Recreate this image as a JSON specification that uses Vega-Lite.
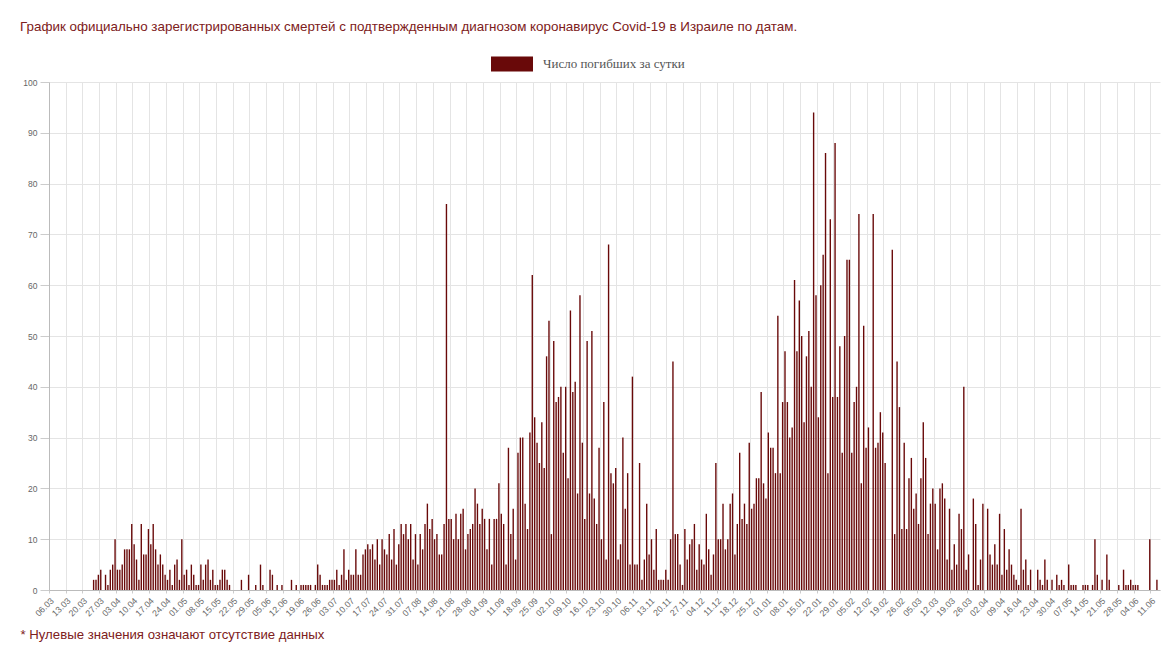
{
  "$schema": "https://vega.github.io/schema/vega-lite/v6.json",
  "width": 1111,
  "height": 508,
  "autosize": {"type": "none"},
  "padding": {"left": 49, "top": 82, "right": 15, "bottom": 62},
  "background": "#ffffff",
  "title": {
    "text": "График официально зарегистрированных смертей с подтвержденным диагнозом коронавирус Covid-19 в Израиле по датам.",
    "anchor": "start",
    "frame": "group",
    "dx": -29,
    "offset": 10,
    "font": "Liberation Sans",
    "fontSize": 13.4,
    "fontWeight": "normal",
    "color": "#7d2020"
  },
  "data": {
    "values": [
      {"d":"2020-03-24","v":2},{"d":"2020-03-25","v":2},{"d":"2020-03-26","v":3},{"d":"2020-03-27","v":4},{"d":"2020-03-29","v":3},{"d":"2020-03-30","v":1},{"d":"2020-03-31","v":4},
      {"d":"2020-04-01","v":5},{"d":"2020-04-02","v":10},{"d":"2020-04-03","v":4},{"d":"2020-04-04","v":4},{"d":"2020-04-05","v":5},{"d":"2020-04-06","v":8},{"d":"2020-04-07","v":8},{"d":"2020-04-08","v":8},{"d":"2020-04-09","v":13},{"d":"2020-04-10","v":9},{"d":"2020-04-11","v":6},{"d":"2020-04-12","v":2},{"d":"2020-04-13","v":13},{"d":"2020-04-14","v":7},{"d":"2020-04-15","v":7},{"d":"2020-04-16","v":12},{"d":"2020-04-17","v":9},{"d":"2020-04-18","v":13},{"d":"2020-04-19","v":8},{"d":"2020-04-20","v":5},{"d":"2020-04-21","v":7},{"d":"2020-04-22","v":5},{"d":"2020-04-23","v":3},{"d":"2020-04-24","v":2},{"d":"2020-04-25","v":4},{"d":"2020-04-26","v":1},{"d":"2020-04-27","v":5},{"d":"2020-04-28","v":6},{"d":"2020-04-29","v":2},{"d":"2020-04-30","v":10},
      {"d":"2020-05-01","v":3},{"d":"2020-05-02","v":4},{"d":"2020-05-03","v":1},{"d":"2020-05-04","v":5},{"d":"2020-05-05","v":3},{"d":"2020-05-06","v":1},{"d":"2020-05-07","v":1},{"d":"2020-05-08","v":5},{"d":"2020-05-09","v":2},{"d":"2020-05-10","v":5},{"d":"2020-05-11","v":6},{"d":"2020-05-12","v":2},{"d":"2020-05-13","v":4},{"d":"2020-05-14","v":1},{"d":"2020-05-15","v":1},{"d":"2020-05-16","v":2},{"d":"2020-05-17","v":4},{"d":"2020-05-18","v":4},{"d":"2020-05-19","v":2},{"d":"2020-05-20","v":1},{"d":"2020-05-25","v":2},{"d":"2020-05-28","v":3},{"d":"2020-05-31","v":1},
      {"d":"2020-06-02","v":5},{"d":"2020-06-03","v":1},{"d":"2020-06-06","v":4},{"d":"2020-06-07","v":3},{"d":"2020-06-09","v":1},{"d":"2020-06-11","v":1},{"d":"2020-06-15","v":2},{"d":"2020-06-17","v":1},{"d":"2020-06-19","v":1},{"d":"2020-06-20","v":1},{"d":"2020-06-21","v":1},{"d":"2020-06-22","v":1},{"d":"2020-06-23","v":1},{"d":"2020-06-25","v":1},{"d":"2020-06-26","v":5},{"d":"2020-06-27","v":3},{"d":"2020-06-28","v":1},{"d":"2020-06-29","v":1},{"d":"2020-06-30","v":1},
      {"d":"2020-07-01","v":2},{"d":"2020-07-02","v":2},{"d":"2020-07-03","v":2},{"d":"2020-07-04","v":4},{"d":"2020-07-05","v":1},{"d":"2020-07-06","v":3},{"d":"2020-07-07","v":8},{"d":"2020-07-08","v":2},{"d":"2020-07-09","v":4},{"d":"2020-07-10","v":3},{"d":"2020-07-11","v":3},{"d":"2020-07-12","v":8},{"d":"2020-07-13","v":3},{"d":"2020-07-14","v":3},{"d":"2020-07-15","v":7},{"d":"2020-07-16","v":8},{"d":"2020-07-17","v":9},{"d":"2020-07-18","v":8},{"d":"2020-07-19","v":9},{"d":"2020-07-20","v":6},{"d":"2020-07-21","v":10},{"d":"2020-07-22","v":5},{"d":"2020-07-23","v":10},{"d":"2020-07-24","v":8},{"d":"2020-07-25","v":7},{"d":"2020-07-26","v":11},{"d":"2020-07-27","v":6},{"d":"2020-07-28","v":12},{"d":"2020-07-29","v":5},{"d":"2020-07-30","v":9},{"d":"2020-07-31","v":13},
      {"d":"2020-08-01","v":11},{"d":"2020-08-02","v":13},{"d":"2020-08-03","v":10},{"d":"2020-08-04","v":13},{"d":"2020-08-05","v":6},{"d":"2020-08-06","v":11},{"d":"2020-08-07","v":5},{"d":"2020-08-08","v":11},{"d":"2020-08-09","v":8},{"d":"2020-08-10","v":13},{"d":"2020-08-11","v":17},{"d":"2020-08-12","v":12},{"d":"2020-08-13","v":14},{"d":"2020-08-14","v":10},{"d":"2020-08-15","v":11},{"d":"2020-08-16","v":7},{"d":"2020-08-17","v":7},{"d":"2020-08-18","v":13},{"d":"2020-08-19","v":76},{"d":"2020-08-20","v":14},{"d":"2020-08-21","v":14},{"d":"2020-08-22","v":10},{"d":"2020-08-23","v":15},{"d":"2020-08-24","v":10},{"d":"2020-08-25","v":15},{"d":"2020-08-26","v":16},{"d":"2020-08-27","v":8},{"d":"2020-08-28","v":11},{"d":"2020-08-29","v":12},{"d":"2020-08-30","v":13},{"d":"2020-08-31","v":20},
      {"d":"2020-09-01","v":17},{"d":"2020-09-02","v":13},{"d":"2020-09-03","v":16},{"d":"2020-09-04","v":14},{"d":"2020-09-05","v":8},{"d":"2020-09-06","v":14},{"d":"2020-09-07","v":5},{"d":"2020-09-08","v":14},{"d":"2020-09-09","v":14},{"d":"2020-09-10","v":21},{"d":"2020-09-11","v":15},{"d":"2020-09-12","v":13},{"d":"2020-09-13","v":5},{"d":"2020-09-14","v":28},{"d":"2020-09-15","v":11},{"d":"2020-09-16","v":16},{"d":"2020-09-17","v":6},{"d":"2020-09-18","v":27},{"d":"2020-09-19","v":30},{"d":"2020-09-20","v":30},{"d":"2020-09-21","v":17},{"d":"2020-09-22","v":12},{"d":"2020-09-23","v":31},{"d":"2020-09-24","v":62},{"d":"2020-09-25","v":34},{"d":"2020-09-26","v":29},{"d":"2020-09-27","v":25},{"d":"2020-09-28","v":33},{"d":"2020-09-29","v":24},{"d":"2020-09-30","v":46},
      {"d":"2020-10-01","v":53},{"d":"2020-10-02","v":11},{"d":"2020-10-03","v":49},{"d":"2020-10-04","v":37},{"d":"2020-10-05","v":38},{"d":"2020-10-06","v":40},{"d":"2020-10-07","v":27},{"d":"2020-10-08","v":40},{"d":"2020-10-09","v":22},{"d":"2020-10-10","v":55},{"d":"2020-10-11","v":39},{"d":"2020-10-12","v":41},{"d":"2020-10-13","v":19},{"d":"2020-10-14","v":58},{"d":"2020-10-15","v":29},{"d":"2020-10-16","v":14},{"d":"2020-10-17","v":49},{"d":"2020-10-18","v":19},{"d":"2020-10-19","v":51},{"d":"2020-10-20","v":18},{"d":"2020-10-21","v":13},{"d":"2020-10-22","v":28},{"d":"2020-10-23","v":10},{"d":"2020-10-24","v":37},{"d":"2020-10-25","v":6},{"d":"2020-10-26","v":68},{"d":"2020-10-27","v":23},{"d":"2020-10-28","v":21},{"d":"2020-10-29","v":24},{"d":"2020-10-30","v":6},{"d":"2020-10-31","v":9},
      {"d":"2020-11-01","v":30},{"d":"2020-11-02","v":16},{"d":"2020-11-03","v":23},{"d":"2020-11-04","v":5},{"d":"2020-11-05","v":42},{"d":"2020-11-06","v":5},{"d":"2020-11-07","v":5},{"d":"2020-11-08","v":25},{"d":"2020-11-09","v":2},{"d":"2020-11-10","v":6},{"d":"2020-11-11","v":17},{"d":"2020-11-12","v":7},{"d":"2020-11-13","v":10},{"d":"2020-11-14","v":4},{"d":"2020-11-15","v":12},{"d":"2020-11-16","v":2},{"d":"2020-11-17","v":2},{"d":"2020-11-18","v":2},{"d":"2020-11-19","v":4},{"d":"2020-11-20","v":2},{"d":"2020-11-21","v":10},{"d":"2020-11-22","v":45},{"d":"2020-11-23","v":11},{"d":"2020-11-24","v":11},{"d":"2020-11-25","v":5},{"d":"2020-11-26","v":1},{"d":"2020-11-27","v":12},{"d":"2020-11-28","v":6},{"d":"2020-11-29","v":9},{"d":"2020-11-30","v":10},
      {"d":"2020-12-01","v":13},{"d":"2020-12-02","v":4},{"d":"2020-12-03","v":9},{"d":"2020-12-04","v":6},{"d":"2020-12-05","v":5},{"d":"2020-12-06","v":15},{"d":"2020-12-07","v":8},{"d":"2020-12-08","v":3},{"d":"2020-12-09","v":7},{"d":"2020-12-10","v":25},{"d":"2020-12-11","v":10},{"d":"2020-12-12","v":10},{"d":"2020-12-13","v":17},{"d":"2020-12-14","v":8},{"d":"2020-12-15","v":10},{"d":"2020-12-16","v":17},{"d":"2020-12-17","v":19},{"d":"2020-12-18","v":7},{"d":"2020-12-19","v":13},{"d":"2020-12-20","v":27},{"d":"2020-12-21","v":14},{"d":"2020-12-22","v":17},{"d":"2020-12-23","v":13},{"d":"2020-12-24","v":29},{"d":"2020-12-25","v":16},{"d":"2020-12-26","v":17},{"d":"2020-12-27","v":22},{"d":"2020-12-28","v":22},{"d":"2020-12-29","v":39},{"d":"2020-12-30","v":21},{"d":"2020-12-31","v":18},
      {"d":"2021-01-01","v":31},{"d":"2021-01-02","v":28},{"d":"2021-01-03","v":28},{"d":"2021-01-04","v":23},{"d":"2021-01-05","v":54},{"d":"2021-01-06","v":23},{"d":"2021-01-07","v":37},{"d":"2021-01-08","v":47},{"d":"2021-01-09","v":37},{"d":"2021-01-10","v":30},{"d":"2021-01-11","v":32},{"d":"2021-01-12","v":61},{"d":"2021-01-13","v":47},{"d":"2021-01-14","v":57},{"d":"2021-01-15","v":50},{"d":"2021-01-16","v":33},{"d":"2021-01-17","v":46},{"d":"2021-01-18","v":51},{"d":"2021-01-19","v":40},{"d":"2021-01-20","v":94},{"d":"2021-01-21","v":58},{"d":"2021-01-22","v":34},{"d":"2021-01-23","v":60},{"d":"2021-01-24","v":66},{"d":"2021-01-25","v":86},{"d":"2021-01-26","v":23},{"d":"2021-01-27","v":73},{"d":"2021-01-28","v":38},{"d":"2021-01-29","v":88},{"d":"2021-01-30","v":38},{"d":"2021-01-31","v":48},
      {"d":"2021-02-01","v":27},{"d":"2021-02-02","v":50},{"d":"2021-02-03","v":65},{"d":"2021-02-04","v":65},{"d":"2021-02-05","v":27},{"d":"2021-02-06","v":37},{"d":"2021-02-07","v":40},{"d":"2021-02-08","v":74},{"d":"2021-02-09","v":21},{"d":"2021-02-10","v":52},{"d":"2021-02-11","v":28},{"d":"2021-02-12","v":32},{"d":"2021-02-14","v":74},{"d":"2021-02-15","v":28},{"d":"2021-02-16","v":29},{"d":"2021-02-17","v":35},{"d":"2021-02-18","v":31},{"d":"2021-02-19","v":25},{"d":"2021-02-22","v":67},{"d":"2021-02-23","v":11},{"d":"2021-02-24","v":45},{"d":"2021-02-25","v":36},{"d":"2021-02-26","v":12},{"d":"2021-02-27","v":29},{"d":"2021-02-28","v":12},
      {"d":"2021-03-01","v":22},{"d":"2021-03-02","v":26},{"d":"2021-03-03","v":16},{"d":"2021-03-04","v":19},{"d":"2021-03-05","v":13},{"d":"2021-03-06","v":22},{"d":"2021-03-07","v":33},{"d":"2021-03-08","v":26},{"d":"2021-03-09","v":11},{"d":"2021-03-10","v":17},{"d":"2021-03-11","v":20},{"d":"2021-03-12","v":17},{"d":"2021-03-13","v":8},{"d":"2021-03-14","v":20},{"d":"2021-03-15","v":21},{"d":"2021-03-16","v":18},{"d":"2021-03-17","v":6},{"d":"2021-03-18","v":16},{"d":"2021-03-19","v":4},{"d":"2021-03-20","v":9},{"d":"2021-03-21","v":5},{"d":"2021-03-22","v":15},{"d":"2021-03-23","v":12},{"d":"2021-03-24","v":40},{"d":"2021-03-25","v":4},{"d":"2021-03-26","v":7},{"d":"2021-03-28","v":18},{"d":"2021-03-29","v":13},{"d":"2021-03-30","v":1},{"d":"2021-03-31","v":6},
      {"d":"2021-04-01","v":17},{"d":"2021-04-03","v":16},{"d":"2021-04-04","v":7},{"d":"2021-04-05","v":5},{"d":"2021-04-06","v":9},{"d":"2021-04-07","v":5},{"d":"2021-04-08","v":15},{"d":"2021-04-09","v":3},{"d":"2021-04-10","v":12},{"d":"2021-04-11","v":4},{"d":"2021-04-12","v":8},{"d":"2021-04-13","v":5},{"d":"2021-04-14","v":3},{"d":"2021-04-15","v":2},{"d":"2021-04-16","v":1},{"d":"2021-04-17","v":16},{"d":"2021-04-18","v":4},{"d":"2021-04-19","v":6},{"d":"2021-04-20","v":1},{"d":"2021-04-21","v":4},{"d":"2021-04-24","v":4},{"d":"2021-04-25","v":2},{"d":"2021-04-26","v":1},{"d":"2021-04-27","v":6},{"d":"2021-04-28","v":2},{"d":"2021-04-30","v":2},
      {"d":"2021-05-02","v":3},{"d":"2021-05-03","v":1},{"d":"2021-05-04","v":2},{"d":"2021-05-05","v":1},{"d":"2021-05-07","v":5},{"d":"2021-05-08","v":1},{"d":"2021-05-09","v":1},{"d":"2021-05-10","v":1},{"d":"2021-05-13","v":1},{"d":"2021-05-14","v":1},{"d":"2021-05-15","v":1},{"d":"2021-05-17","v":1},{"d":"2021-05-18","v":10},{"d":"2021-05-19","v":3},{"d":"2021-05-21","v":2},{"d":"2021-05-23","v":7},{"d":"2021-05-24","v":2},{"d":"2021-05-28","v":1},{"d":"2021-05-30","v":4},{"d":"2021-05-31","v":1},
      {"d":"2021-06-01","v":1},{"d":"2021-06-02","v":2},{"d":"2021-06-03","v":1},{"d":"2021-06-04","v":1},{"d":"2021-06-05","v":1},{"d":"2021-06-10","v":10},{"d":"2021-06-13","v":2}
    ]
  },
  "mark": {"type": "bar", "timeUnitBandSize": 0.9, "timeUnitBandPosition": 0.05},
  "encoding": {
    "x": {
      "field": "d",
      "type": "temporal",
      "timeUnit": "utcyearmonthdate",
      "scale": {"domain": [{"year": 2020, "month": 3, "date": 6, "utc": true}, {"year": 2021, "month": 6, "date": 15, "utc": true}]},
      "axis": {
        "values": [
          {"year":2020,"month":3,"date":6,"utc":true},{"year":2020,"month":3,"date":13,"utc":true},{"year":2020,"month":3,"date":20,"utc":true},{"year":2020,"month":3,"date":27,"utc":true},
          {"year":2020,"month":4,"date":3,"utc":true},{"year":2020,"month":4,"date":10,"utc":true},{"year":2020,"month":4,"date":17,"utc":true},{"year":2020,"month":4,"date":24,"utc":true},
          {"year":2020,"month":5,"date":1,"utc":true},{"year":2020,"month":5,"date":8,"utc":true},{"year":2020,"month":5,"date":15,"utc":true},{"year":2020,"month":5,"date":22,"utc":true},{"year":2020,"month":5,"date":29,"utc":true},
          {"year":2020,"month":6,"date":5,"utc":true},{"year":2020,"month":6,"date":12,"utc":true},{"year":2020,"month":6,"date":19,"utc":true},{"year":2020,"month":6,"date":26,"utc":true},
          {"year":2020,"month":7,"date":3,"utc":true},{"year":2020,"month":7,"date":10,"utc":true},{"year":2020,"month":7,"date":17,"utc":true},{"year":2020,"month":7,"date":24,"utc":true},{"year":2020,"month":7,"date":31,"utc":true},
          {"year":2020,"month":8,"date":7,"utc":true},{"year":2020,"month":8,"date":14,"utc":true},{"year":2020,"month":8,"date":21,"utc":true},{"year":2020,"month":8,"date":28,"utc":true},
          {"year":2020,"month":9,"date":4,"utc":true},{"year":2020,"month":9,"date":11,"utc":true},{"year":2020,"month":9,"date":18,"utc":true},{"year":2020,"month":9,"date":25,"utc":true},
          {"year":2020,"month":10,"date":2,"utc":true},{"year":2020,"month":10,"date":9,"utc":true},{"year":2020,"month":10,"date":16,"utc":true},{"year":2020,"month":10,"date":23,"utc":true},{"year":2020,"month":10,"date":30,"utc":true},
          {"year":2020,"month":11,"date":6,"utc":true},{"year":2020,"month":11,"date":13,"utc":true},{"year":2020,"month":11,"date":20,"utc":true},{"year":2020,"month":11,"date":27,"utc":true},
          {"year":2020,"month":12,"date":4,"utc":true},{"year":2020,"month":12,"date":11,"utc":true},{"year":2020,"month":12,"date":18,"utc":true},{"year":2020,"month":12,"date":25,"utc":true},
          {"year":2021,"month":1,"date":1,"utc":true},{"year":2021,"month":1,"date":8,"utc":true},{"year":2021,"month":1,"date":15,"utc":true},{"year":2021,"month":1,"date":22,"utc":true},{"year":2021,"month":1,"date":29,"utc":true},
          {"year":2021,"month":2,"date":5,"utc":true},{"year":2021,"month":2,"date":12,"utc":true},{"year":2021,"month":2,"date":19,"utc":true},{"year":2021,"month":2,"date":26,"utc":true},
          {"year":2021,"month":3,"date":5,"utc":true},{"year":2021,"month":3,"date":12,"utc":true},{"year":2021,"month":3,"date":19,"utc":true},{"year":2021,"month":3,"date":26,"utc":true},
          {"year":2021,"month":4,"date":2,"utc":true},{"year":2021,"month":4,"date":9,"utc":true},{"year":2021,"month":4,"date":16,"utc":true},{"year":2021,"month":4,"date":23,"utc":true},{"year":2021,"month":4,"date":30,"utc":true},
          {"year":2021,"month":5,"date":7,"utc":true},{"year":2021,"month":5,"date":14,"utc":true},{"year":2021,"month":5,"date":21,"utc":true},{"year":2021,"month":5,"date":28,"utc":true},
          {"year":2021,"month":6,"date":4,"utc":true},{"year":2021,"month":6,"date":11,"utc":true}
        ],
        "labelExpr": "utcFormat(datum.value, '%d.%m')",
        "labelAngle": -45,
        "labelAlign": "right",
        "labelBaseline": "top",
        "labelPadding": 3,
        "labelOverlap": false,
        "labelFlush": false,
        "labelFontSize": 8.8,
        "tickSize": 3,
        "grid": true,
        "title": "* Нулевые значения означают отсутствие данных",
        "titleAnchor": null,
        "titleAlign": "left",
        "titleBaseline": "middle",
        "titleX": -29,
        "titleY": 44,
        "titleFont": "Liberation Sans",
        "titleFontSize": 13.2,
        "titleFontWeight": "normal",
        "titleColor": "#7d2020"
      }
    },
    "y": {
      "field": "v",
      "type": "quantitative",
      "scale": {"domain": [0, 100], "nice": false},
      "axis": {
        "values": [0, 10, 20, 30, 40, 50, 60, 70, 80, 90, 100],
        "title": null,
        "labelFontSize": 8.5,
        "tickSize": 9,
        "labelPadding": 3,
        "grid": true
      }
    },
    "color": {
      "datum": "Число погибших за сутки",
      "type": "nominal",
      "scale": {"range": ["#690909"]},
      "legend": {
        "title": null,
        "orient": "none",
        "legendX": 442,
        "legendY": -39,
        "direction": "horizontal",
        "symbolType": "M-1,-0.36H1V0.36H-1Z",
        "symbolSize": 1764,
        "symbolStrokeWidth": 0,
        "symbolOpacity": 1,
        "labelFont": "Liberation Serif",
        "labelFontSize": 13,
        "labelColor": "#555555",
        "labelOffset": 10,
        "padding": 0
      }
    }
  },
  "config": {
    "view": {"stroke": null},
    "axis": {
      "domainColor": "#bbbbbb",
      "tickColor": "#cccccc",
      "gridColor": "#e4e4e4",
      "labelColor": "#666666",
      "labelFont": "Liberation Sans"
    }
  }
}
